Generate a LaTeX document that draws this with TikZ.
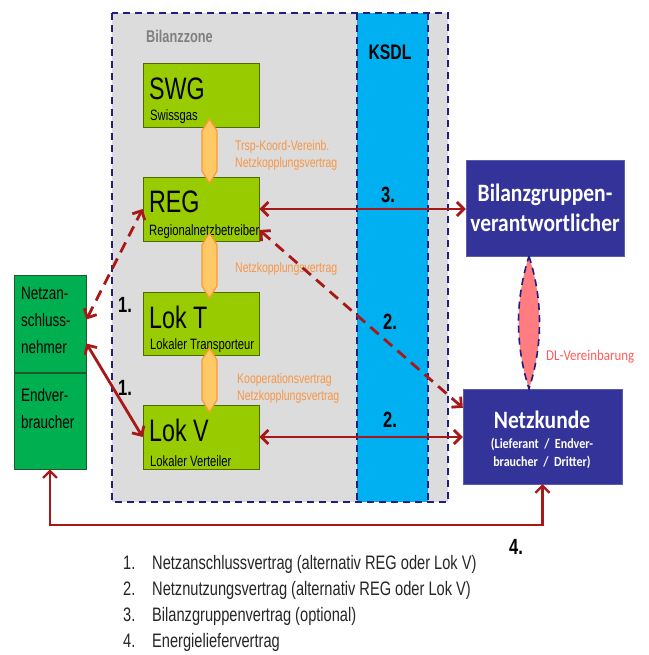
\documentclass[tikz,border=0pt]{standalone}
\usepackage{fontspec}
\setmainfont{Liberation Sans}
\newfontfamily\nar[FakeStretch=0.75]{Liberation Sans}
\newfontfamily\calb[FakeStretch=0.86]{Carlito}
\usetikzlibrary{arrows.meta,calc}
\definecolor{navy}{HTML}{1F1F80}
\definecolor{zonegray}{HTML}{DCDCDC}
\definecolor{ksdl}{HTML}{00B0F0}
\definecolor{lime}{HTML}{99CC00}
\definecolor{limeborder}{HTML}{4F6A00}
\definecolor{dgreen}{HTML}{00B050}
\definecolor{dgreenborder}{HTML}{1E5A2E}
\definecolor{bluebox}{HTML}{333399}
\definecolor{lensfill}{HTML}{FF7C80}
\definecolor{orangefill}{HTML}{FFC966}
\definecolor{orangeline}{HTML}{FF9933}
\definecolor{orangetext}{HTML}{F79646}
\definecolor{arrowred}{HTML}{A81818}
\definecolor{dlred}{HTML}{FF5B5B}
\tikzset{
 zoneline/.style={navy, line width=1.6pt, dash pattern=on 7pt off 5pt},
 greenbox/.style={draw=limeborder, fill=lime, line width=0.8pt, minimum width=116pt, inner sep=0pt},
 sidebox/.style={draw=dgreenborder, fill=dgreen, line width=0.8pt, minimum width=72pt, inner sep=0pt},
 bluenode/.style={fill=bluebox, draw=bluebox!80!white, inner sep=0pt, text=white, align=center},
 hexconn/.style={fill=orangefill, draw=orangeline, line width=1.2pt, line join=round},
 biglbl/.style={font=\nar\fontsize{31}{31}\selectfont, anchor=west, inner sep=0pt},
 smalllbl/.style={font=\nar\fontsize{15}{15}\selectfont, anchor=west, inner sep=0pt},
 orangelbl/.style={font=\nar\fontsize{14}{17}\selectfont, text=orangetext, anchor=west, inner sep=0pt, align=left},
 numlbl/.style={font=\nar\bfseries\fontsize{22}{22}\selectfont, inner sep=0pt},
 sidetext/.style={font=\nar\fontsize{18}{27}\selectfont, align=left, anchor=north west, inner sep=0pt},
 solidarrow/.style={arrowred, line width=2.8pt, {Straight Barb[length=7pt,width=14pt]}-{Straight Barb[length=7pt,width=14pt]}},
 dasharrow/.style={solidarrow, dash pattern=on 11pt off 7pt},
 legendlbl/.style={font=\nar\fontsize{19.5}{19.5}\selectfont, anchor=base west, inner sep=0pt, text=black!85},
}
\begin{document}
\begin{tikzpicture}[x=1pt,y=-1pt]
\useasboundingbox (0,0) rectangle (648,655);
\fill[white] (0,0) rectangle (648,655);
% zone
\fill[zonegray] (112,13) rectangle (448,502);
\fill[ksdl] (357,13) rectangle (428,502);
\draw[zoneline] (112,13) rectangle (448,502);
\draw[zoneline] (357,13) -- (357,502);
\draw[zoneline] (428,13) -- (428,502);
\node[font=\nar\bfseries\fontsize{17}{17}\selectfont, text=black!50, anchor=west, inner sep=0pt] (zlabel) at (146,36) {Bilanzzone};
\node[font=\nar\bfseries\fontsize{21}{21}\selectfont, inner sep=0pt] (ksdllabel) at (390,52) {KSDL};
% green boxes
\node[greenbox, minimum height=64pt] (swg) at (201,95) {};
\node[greenbox, minimum height=64pt] (reg) at (201,209) {};
\node[greenbox, minimum height=63pt] (lokt) at (201,323.5) {};
\node[greenbox, minimum height=64pt] (lokv) at (201,437) {};
\node[biglbl] (swgt) at (149,89) {SWG};
\node[smalllbl] (swgs) at (150,117) {Swissgas};
\node[biglbl] (regt) at (149,202) {REG};
\node[smalllbl] (regs) at (149,232) {Regionalnetzbetreiber};
\node[biglbl] (lokTt) at (149,317) {Lok T};
\node[smalllbl] (lokTs) at (150,346) {Lokaler Transporteur};
\node[biglbl] (lokVt) at (149,430) {Lok V};
\node[smalllbl] (lokVs) at (150,461) {Lokaler Verteiler};
% hexagon connectors
\draw[hexconn] (209.5,119) -- (217,131) -- (217,171) -- (209.5,183) -- (202,171) -- (202,131) -- cycle;
\draw[hexconn] (209.5,233) -- (217,245) -- (217,286) -- (209.5,298) -- (202,286) -- (202,245) -- cycle;
\draw[hexconn] (209.5,348) -- (217,360) -- (217,400) -- (209.5,412) -- (202,400) -- (202,360) -- cycle;
\node[orangelbl] (o1) at (235,155.5) {Trsp-Koord-Vereinb.\\Netzkopplungsvertrag};
\node[orangelbl] (o2) at (235,269) {Netzkopplungsvertrag};
\node[orangelbl] (o3) at (237,388.5) {Kooperationsvertrag\\Netzkopplungsvertrag};
% side boxes
\node[sidebox, minimum height=97pt] (nan) at (50,323.5) {};
\node[sidebox, minimum height=96pt] (endv) at (50,421) {};
\node[sidetext] (nant) at (21,286.5) {Netzan-\\schluss-\\nehmer};
\node[sidetext] (endvt) at (21,388.5) {Endver-\\braucher};
% blue boxes
\node[bluenode, minimum width=158pt, minimum height=96pt, font=\calb\bfseries\fontsize{25}{30}\selectfont] (bgv) at (545,208) {Bilanzgruppen-\\verantwortlicher};
\node[bluenode, minimum width=159pt, minimum height=95pt] (nk) at (542.5,436.5) {};
\node[font=\calb\bfseries\fontsize{25}{25}\selectfont, text=white, inner sep=0pt] (nkt) at (542,420) {Netzkunde};
\node[font=\calb\bfseries\fontsize{14}{18}\selectfont, text=white, align=center, inner sep=0pt] (nks) at (542,453) {(Lieferant~~/~~Endver-\\braucher~~/~~Dritter)};
% lens
\draw[zoneline, fill=lensfill] ($(bgv.south)+(-16,0)$) .. controls ($(bgv.south)+(-2,44)$) and ($(nk.north)+(0.5,-44)$) .. ($(nk.north)+(-13.5,0)$) .. controls ($(nk.north)+(-27.5,-44)$) and ($(bgv.south)+(-30,44)$) .. ($(bgv.south)+(-16,0)$) -- cycle;
\node[font=\calb\fontsize{15}{15}\selectfont, text=dlred, anchor=west, inner sep=0pt] (dl) at (546,357) {DL-Vereinbarung};
% arrows
\draw[solidarrow] (reg.east) -- (reg.east -| bgv.west);
\draw[solidarrow] (lokv.east) -- (lokv.east -| nk.west);
\draw[dasharrow] ($(nan.east)+(0,-4)$) -- (reg.west);
\draw[solidarrow] ($(nan.east)+(0,20)$) -- (lokv.west);
\draw[dasharrow] ($(reg.east)+(0,21)$) -- ($(nk.north west)+(0,19)$);
\coordinate (b4) at (300,525);
\draw[solidarrow, line width=2.2pt] (endv.south) |- (b4) -| (nk.south);
% numbers
\node[numlbl] (n3) at (388,195) {3.};
\node[numlbl] (n2a) at (390,322) {2.};
\node[numlbl] (n2b) at (390,420) {2.};
\node[numlbl] (n1a) at (125,305) {1.};
\node[numlbl] (n1b) at (125,388) {1.};
\node[numlbl] (n4) at (516,547) {4.};
% legend
\node[legendlbl] (l1n) at (123,569) {1.};
\node[legendlbl] (l1t) at (152,569) {Netzanschlussvertrag (alternativ REG oder Lok V)};
\node[legendlbl] (l2n) at (123,595) {2.};
\node[legendlbl] (l2t) at (152,595) {Netznutzungsvertrag (alternativ REG oder Lok V)};
\node[legendlbl] (l3n) at (123,621) {3.};
\node[legendlbl] (l3t) at (152,621) {Bilanzgruppenvertrag (optional)};
\node[legendlbl] (l4n) at (123,647) {4.};
\node[legendlbl] (l4t) at (152,647) {Energieliefervertrag};
\end{tikzpicture}
\end{document}
